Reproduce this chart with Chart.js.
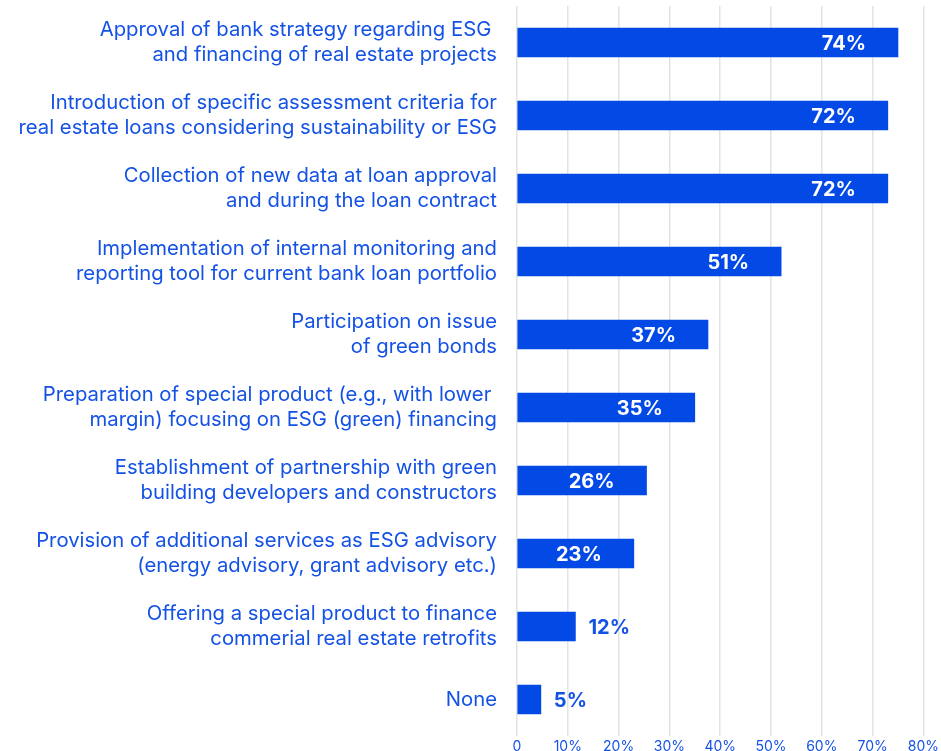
<!DOCTYPE html>
<html>
<head>
<meta charset="utf-8">
<script src="https://cdn.jsdelivr.net/npm/chart.js@4"></script>
<style>
  html, body { margin: 0; padding: 0; background: #fff; }
  #wrap { width: 941px; height: 751px; }
</style>
</head>
<body>
<div id="wrap"><canvas id="chart"></canvas></div>
<script>
// categories (two-line labels)
const categories = [
  ["Approval of bank strategy regarding ESG ", "and financing of real estate projects"],
  ["Introduction of specific assessment criteria for", "real estate loans considering sustainability or ESG"],
  ["Collection of new data at loan approval", "and during the loan contract"],
  ["Implementation of internal monitoring and", "reporting tool for current bank loan portfolio"],
  ["Participation on issue", "of green bonds"],
  ["Preparation of special product (e.g., with lower ", "margin) focusing on ESG (green) financing"],
  ["Establishment of partnership with green", "building developers and constructors"],
  ["Provision of additional services as ESG advisory", "(energy advisory, grant advisory etc.)"],
  ["Offering a special product to finance", "commerial real estate retrofits"],
  "None"
];
// bar lengths as drawn
const values = [75, 73, 73, 52, 37.6, 35, 25.5, 23, 11.5, 4.7];
// printed value labels
const valueLabels = ["74%", "72%", "72%", "51%", "37%", "35%", "26%", "23%", "12%", "5%"];
const xTicks = [0, 10, 20, 30, 40, 50, 60, 70, 80];

const blue = "#0349E6";
const textBlue = "#1452E6";

// draw value labels inside/outside the bars
const valueLabelPlugin = {
  id: "valueLabels",
  afterDatasetsDraw(chart) {
    const ctx = chart.ctx;
    const meta = chart.getDatasetMeta(0);
    ctx.save();
    ctx.font = "bold 20px Inter, 'Liberation Sans', sans-serif";
    ctx.textBaseline = "middle";
    meta.data.forEach((bar, i) => {
      const txt = valueLabels[i];
      if (values[i] > 20) {
        ctx.fillStyle = "#ffffff";
        ctx.textAlign = "right";
        ctx.fillText(txt, bar.x - 32, bar.y + 1);
      } else {
        ctx.fillStyle = textBlue;
        ctx.textAlign = "left";
        ctx.fillText(txt, bar.x + 13, bar.y + 1);
      }
    });
    ctx.restore();
  }
};

new Chart(document.getElementById("chart"), {
  type: "bar",
  data: {
    labels: categories,
    datasets: [{
      data: values,
      backgroundColor: blue,
      borderWidth: 0,
      barThickness: 29
    }]
  },
  options: {
    indexAxis: "y",
    responsive: true,
    maintainAspectRatio: false,
    animation: false,
    layout: { padding: { top: 6, right: 0, bottom: 0, left: 0 } },
    plugins: {
      legend: { display: false },
      tooltip: { enabled: false }
    },
    scales: {
      x: {
        min: 0,
        max: 80,
        afterBuildTicks(scale) {
          scale.ticks = xTicks.map(v => ({ value: v }));
        },
        ticks: {
          color: textBlue,
          font: { family: "Inter, 'Liberation Sans', sans-serif", size: 14 },
          padding: 2,
          callback: v => (v === 0 ? "0" : v + "%")
        },
        grid: { color: "#e3e3e3", drawTicks: false, lineWidth: 1.5 },
        border: { display: false },
        afterFit(scale) { scale.height = 15; }
      },
      y: {
        ticks: {
          color: textBlue,
          font: { family: "Inter, 'Liberation Sans', sans-serif", size: 20.3, lineHeight: 1.2 },
          padding: 20
        },
        grid: { display: false, drawTicks: false },
        border: { display: false },
        afterFit(scale) {
          scale.width = 517;
          scale.paddingTop = 0;
          scale.paddingBottom = 0;
        }
      }
    }
  },
  plugins: [valueLabelPlugin]
});
</script>
</body>
</html>
